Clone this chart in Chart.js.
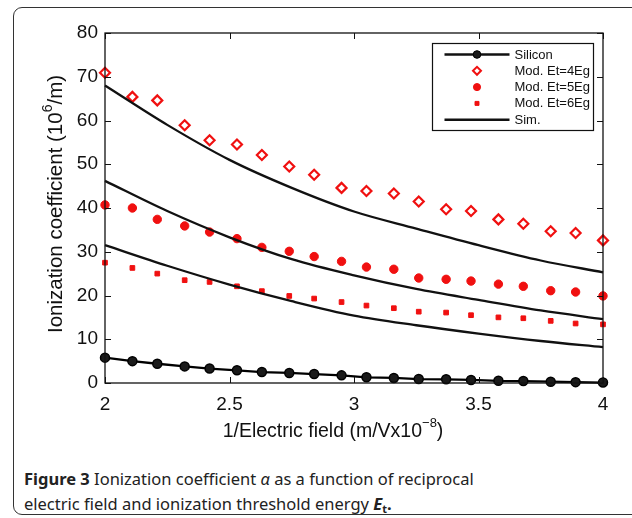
<!DOCTYPE html>
<html>
<head>
<meta charset="utf-8">
<script src="https://cdn.jsdelivr.net/npm/chart.js@4.4.1/dist/chart.umd.min.js"></script>
<style>
  html, body { margin: 0; padding: 0; background: #fff; }
  body { width: 632px; height: 518px; position: relative; overflow: hidden; }
  .frame { position: absolute; left: 13px; top: 7px; width: 650px; height: 506px;
           border: 1.5px solid #333; border-radius: 9px; }
  .plot { position: absolute; left: 0; top: 0; width: 632px; height: 450px; }
  .caption { position: absolute; left: 24px; top: 466px; font-family: "Noto Sans", sans-serif;
             font-size: 16.5px; line-height: 25px; color: #222; }
  .caption i { font-style: italic; }
  .caption sub { font-size: 11px; vertical-align: -3px; line-height: 0; }
</style>
</head>
<body>
<div class="frame"></div>
<div class="plot"><canvas id="chart" width="632" height="450"></canvas></div>
<div class="caption"><b>Figure 3</b> Ionization coefficient <i>α</i> as a function of reciprocal<br>electric field and ionization threshold energy <b><i>E</i><sub>t</sub>.</b></div>

<script>
// 1/E field positions of the model points (m/V x 10^-8)
const xPoints = [2.00, 2.11, 2.21, 2.32, 2.42, 2.53, 2.63, 2.74, 2.84, 2.95,
                 3.05, 3.16, 3.26, 3.37, 3.47, 3.58, 3.68, 3.79, 3.89, 4.00];

const silicon = [5.8, 5.0, 4.4, 3.8, 3.3, 2.9, 2.5, 2.3, 2.05, 1.75,
                 1.3, 1.15, 0.9, 0.85, 0.7, 0.5, 0.45, 0.3, 0.2, 0.1];
const mod4Eg  = [70.9, 65.4, 64.6, 58.9, 55.5, 54.5, 52.1, 49.5, 47.6, 44.6,
                 43.9, 43.3, 41.5, 39.7, 39.3, 37.4, 36.4, 34.7, 34.3, 32.6];
const mod5Eg  = [40.7, 40.0, 37.4, 35.9, 34.5, 33.0, 31.0, 30.1, 28.9, 27.8,
                 26.5, 26.0, 24.0, 23.7, 23.3, 22.6, 22.1, 21.1, 20.8, 19.9];
const mod6Eg  = [27.5, 26.3, 25.0, 23.5, 23.1, 22.1, 21.0, 19.9, 19.3, 18.5,
                 17.7, 17.1, 16.3, 16.1, 15.5, 15.0, 14.8, 14.2, 13.6, 13.4];

// simulated curves, read at quarter steps
const xSim   = [2.00, 2.25, 2.50, 2.75, 3.00, 3.25, 3.50, 3.75, 4.00];
const sim4Eg = [68.0, 59.0, 51.0, 44.6, 39.2, 35.3, 31.5, 28.0, 25.3];
const sim5Eg = [46.2, 39.3, 33.3, 28.3, 24.6, 21.5, 19.0, 16.6, 14.6];
const sim6Eg = [31.5, 26.8, 22.5, 18.7, 15.4, 13.2, 11.3, 9.6, 8.2];

const yTicks = [0, 10, 20, 30, 40, 50, 60, 70, 80];
const xTicks = [2, 2.5, 3, 3.5, 4];

const pts = (xs, ys) => xs.map((x, i) => ({ x, y: ys[i] }));
const RED = "#f01010";
const AXIS_FONT = "'Liberation Sans', Arial, sans-serif";

const simLine = ys => ({
    label: "Sim.", data: pts(xSim, ys), showLine: true, borderColor: "#111", borderWidth: 2.3,
    pointRadius: 0, cubicInterpolationMode: "monotone", clip: false
});

const datasets = [
    simLine(sim4Eg), simLine(sim5Eg), simLine(sim6Eg),
    { label: "Mod. Et=4Eg", data: pts(xPoints, mod4Eg), pointStyle: "rectRot", pointRadius: 5,
      backgroundColor: "#fff", borderColor: RED, borderWidth: 2.2, showLine: false, clip: false },
    { label: "Mod. Et=5Eg", data: pts(xPoints, mod5Eg), pointStyle: "circle", pointRadius: 4.2,
      backgroundColor: RED, borderColor: RED, borderWidth: 1, showLine: false, clip: false },
    { label: "Mod. Et=6Eg", data: pts(xPoints, mod6Eg), pointStyle: "rect", pointRadius: 3.3,
      backgroundColor: RED, borderColor: RED, borderWidth: 1, showLine: false, clip: false },
    { label: "Silicon", data: pts(xPoints, silicon), showLine: true, borderColor: "#111", borderWidth: 2.3,
      pointStyle: "circle", pointRadius: 4.5, backgroundColor: "#1a1a1a", borderColor: "#000",
      pointBorderWidth: 1.5, clip: false }
];

// box, inward ticks, axis titles and legend (MATLAB style)
const matlabFrame = {
    id: "matlabFrame",
    afterDatasetsDraw(chart) {
        const { ctx, chartArea: a, scales: { x, y } } = chart;
        ctx.save();
        ctx.strokeStyle = "#111";
        ctx.lineWidth = 1.3;
        ctx.strokeRect(a.left, a.top, a.right - a.left, a.bottom - a.top);
        ctx.beginPath();
        yTicks.forEach(v => {
            const p = Math.round(y.getPixelForValue(v)) + 0.5;
            ctx.moveTo(a.left, p); ctx.lineTo(a.left + 6, p);
            ctx.moveTo(a.right, p); ctx.lineTo(a.right - 6, p);
        });
        xTicks.forEach(v => {
            const p = Math.round(x.getPixelForValue(v)) + 0.5;
            ctx.moveTo(p, a.bottom); ctx.lineTo(p, a.bottom - 6);
            ctx.moveTo(p, a.top); ctx.lineTo(p, a.top + 6);
        });
        ctx.lineWidth = 1;
        ctx.stroke();

        // axis titles with superscripts
        const drawSup = (parts, cx, cy, size) => {
            const sup = Math.round(size * 0.68);
            let w = 0;
            parts.forEach(p => { ctx.font = `${p.sup ? sup : size}px ${AXIS_FONT}`; w += ctx.measureText(p.t).width; });
            let xx = cx - w / 2;
            parts.forEach(p => {
                ctx.font = `${p.sup ? sup : size}px ${AXIS_FONT}`;
                ctx.fillText(p.t, xx, cy - (p.sup ? size * 0.5 : 0));
                xx += ctx.measureText(p.t).width;
            });
        };
        ctx.fillStyle = "#111";
        ctx.textBaseline = "alphabetic";
        ctx.textAlign = "left";
        drawSup([{ t: "1/Electric field (m/Vx10" }, { t: "−8", sup: true }, { t: ")" }], 333, 437, 19.5);
        ctx.save();
        ctx.translate(62, 204);
        ctx.rotate(-Math.PI / 2);
        drawSup([{ t: "Ionization coefficient (10" }, { t: "6", sup: true }, { t: "/m)" }], 0, 0, 20.5);
        ctx.restore();

        // legend
        const L = { x: 432.5, y: 43.5, w: 161, h: 87 };
        ctx.fillStyle = "#fff";
        ctx.fillRect(L.x, L.y, L.w, L.h);
        ctx.strokeStyle = "#111";
        ctx.lineWidth = 1.2;
        ctx.strokeRect(L.x, L.y, L.w, L.h);
        const rows = [
            { ds: 6, line: true, mark: true },
            { ds: 3 }, { ds: 4 }, { ds: 5 },
            { ds: 0, line: true }
        ];
        rows.forEach((r, i) => {
            const d = datasets[r.ds];
            const ry = L.y + 11 + i * 16.3;
            const x0 = L.x + 12, x1 = L.x + 77, xm = (x0 + x1) / 2;
            if (r.line) {
                ctx.beginPath();
                ctx.moveTo(x0, ry); ctx.lineTo(x1, ry);
                ctx.strokeStyle = "#111"; ctx.lineWidth = 2.6; ctx.stroke();
            }
            if (!r.line || r.mark) {
                ctx.fillStyle = d.backgroundColor;
                ctx.strokeStyle = d.borderColor;
                ctx.lineWidth = r.ds === 3 ? 2 : 1;
                Chart.helpers.drawPoint(ctx, { pointStyle: d.pointStyle, radius: r.ds === 3 ? 4 : d.pointRadius * 0.85, borderWidth: ctx.lineWidth }, xm, ry);
            }
            ctx.fillStyle = "#111";
            ctx.font = `13px ${AXIS_FONT}`;
            ctx.textBaseline = "middle";
            ctx.fillText(d.label, L.x + 82, ry + 0.5);
        });
        ctx.restore();
    }
};

new Chart(document.getElementById("chart"), {
    type: "scatter",
    data: { datasets },
    options: {
        responsive: false, animation: false,
        layout: { padding: { left: 0, top: 33, right: 29, bottom: 0 } },
        plugins: { legend: { display: false }, tooltip: { enabled: false } },
        scales: {
            x: {
                type: "linear", min: 2, max: 4,
                afterBuildTicks: s => { s.ticks = xTicks.map(v => ({ value: v })); },
                afterFit: s => { s.height = 67; },
                grid: { display: false, drawTicks: false }, border: { display: false },
                ticks: { color: "#111", padding: 10, font: { family: AXIS_FONT, size: 19 }, callback: v => String(v) }
            },
            y: {
                type: "linear", min: 0, max: 80,
                afterBuildTicks: s => { s.ticks = yTicks.map(v => ({ value: v })); },
                afterFit: s => { s.width = 105; },
                grid: { display: false, drawTicks: false }, border: { display: false },
                ticks: { color: "#111", padding: 7, font: { family: AXIS_FONT, size: 19 }, callback: v => String(v) }
            }
        }
    },
    plugins: [matlabFrame]
});
</script>
</body>
</html>
